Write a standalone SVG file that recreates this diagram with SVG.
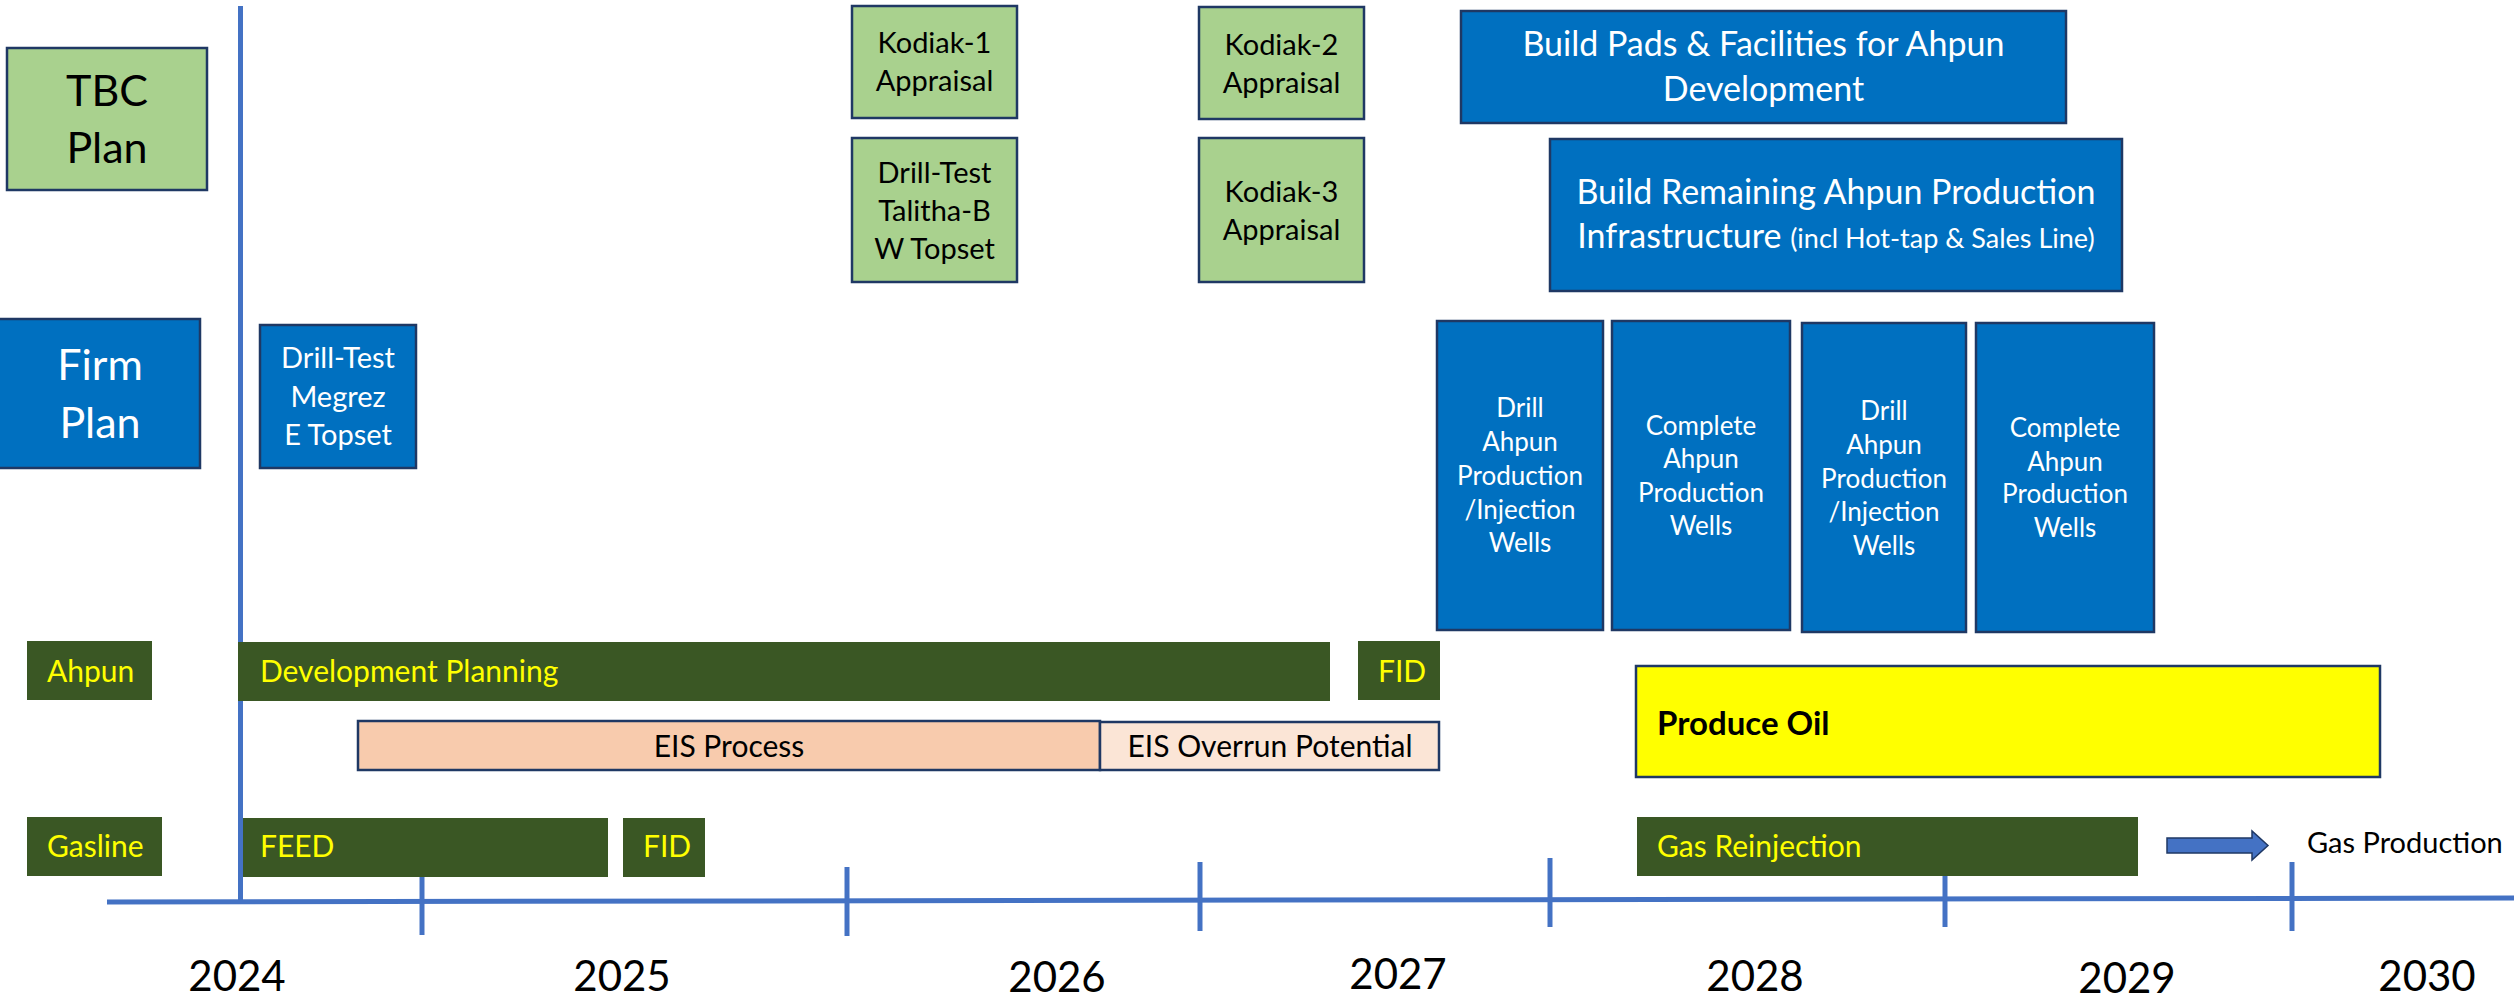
<svg xmlns="http://www.w3.org/2000/svg" width="2514" height="1000" viewBox="0 0 2514 1000">
  <style>
    text { font-family: Lato, "Liberation Sans", sans-serif; }
    .tbc { fill: #A9D18E; stroke: #1F3864; stroke-width: 2.5; }
    .firm { fill: #0070C0; stroke: #1F3864; stroke-width: 2.5; }
    .bar { fill: #3A5724; }
    .eis { fill: #F8CBAD; stroke: #1F3864; stroke-width: 2.5; }
    .eis-over { fill: #FBE5D6; stroke: #1F3864; stroke-width: 2.5; }
    .oil { fill: #FFFF00; stroke: #1F3864; stroke-width: 2.5; }
    .axis { stroke: #4472C4; stroke-width: 5; fill: none; }
    .dark { fill: #000000; }
    .white { fill: #FFFFFF; }
    .yellow { fill: #FFFF00; font-size: 30px; }
    .mid { text-anchor: middle; }
    .s29 { font-size: 29px; }
    .s26 { font-size: 26px; }
    .s34 { font-size: 34px; }
    .big { font-size: 43px; }
    .year { font-size: 42px; fill: #000000; text-anchor: middle; }
  </style>

  <!-- timeline: vertical start marker, horizontal axis and ticks -->
  <g id="timeline">
    <line class="axis" x1="240.5" y1="6" x2="240.5" y2="902"/>
    <line class="axis" x1="107" y1="902" x2="2514" y2="898"/>
    <line class="axis" x1="422" y1="875" x2="422" y2="935"/>
    <line class="axis" x1="847" y1="867" x2="847" y2="936"/>
    <line class="axis" x1="1200" y1="862" x2="1200" y2="931"/>
    <line class="axis" x1="1550" y1="858" x2="1550" y2="927"/>
    <line class="axis" x1="1945" y1="870" x2="1945" y2="927"/>
    <line class="axis" x1="2292" y1="862" x2="2292" y2="931"/>
    <text class="year" x="237" y="991">2024</text>
    <text class="year" x="622" y="991">2025</text>
    <text class="year" x="1057" y="992">2026</text>
    <text class="year" x="1398" y="989">2027</text>
    <text class="year" x="1755" y="991">2028</text>
    <text class="year" x="2127" y="993">2029</text>
    <text class="year" x="2427" y="991">2030</text>
  </g>

  <!-- legend boxes -->
  <g id="tbc-plan">
    <rect class="tbc" x="7" y="48" width="200" height="142"/>
    <text class="dark mid big" x="107" y="106">TBC</text>
    <text class="dark mid big" x="107" y="163">Plan</text>
  </g>
  <g id="firm-plan">
    <rect class="firm" x="-2" y="319" width="202" height="149"/>
    <text class="white mid big" x="100" y="380">Firm</text>
    <text class="white mid big" x="100" y="438">Plan</text>
  </g>

  <!-- wells and appraisals -->
  <g id="megrez">
    <rect class="firm" x="260" y="325" width="156" height="143"/>
    <text class="white mid s29" x="338" y="368">Drill-Test</text>
    <text class="white mid s29" x="338" y="407">Megrez</text>
    <text class="white mid s29" x="338" y="445">E Topset</text>
  </g>
  <g id="kodiak-1">
    <rect class="tbc" x="852" y="6" width="165" height="112"/>
    <text class="dark mid s29" x="934.5" y="53">Kodiak-1</text>
    <text class="dark mid s29" x="934.5" y="91">Appraisal</text>
  </g>
  <g id="talitha">
    <rect class="tbc" x="852" y="138" width="165" height="144"/>
    <text class="dark mid s29" x="934.5" y="183">Drill-Test</text>
    <text class="dark mid s29" x="934.5" y="221">Talitha-B</text>
    <text class="dark mid s29" x="934.5" y="259">W Topset</text>
  </g>
  <g id="kodiak-2">
    <rect class="tbc" x="1199" y="7" width="165" height="112"/>
    <text class="dark mid s29" x="1281.5" y="55">Kodiak-2</text>
    <text class="dark mid s29" x="1281.5" y="93">Appraisal</text>
  </g>
  <g id="kodiak-3">
    <rect class="tbc" x="1199" y="138" width="165" height="144"/>
    <text class="dark mid s29" x="1281.5" y="202">Kodiak-3</text>
    <text class="dark mid s29" x="1281.5" y="240">Appraisal</text>
  </g>

  <!-- facilities -->
  <g id="build-pads">
    <rect class="firm" x="1461" y="11" width="605" height="112"/>
    <text class="white mid s34" x="1763.5" y="56">Build Pads &amp; Facilities for Ahpun</text>
    <text class="white mid s34" x="1763.5" y="101">Development</text>
  </g>
  <g id="build-remaining">
    <rect class="firm" x="1550" y="139" width="572" height="152"/>
    <text class="white mid s34" x="1836" y="204">Build Remaining Ahpun Production</text>
    <text class="white mid s34" x="1836" y="248">Infrastructure <tspan style="font-size:27px">(incl Hot-tap &amp; Sales Line)</tspan></text>
  </g>

  <!-- drilling campaigns -->
  <g id="drill-1">
    <rect class="firm" x="1437" y="321" width="166" height="309"/>
    <text class="white mid s26" x="1520" y="417">Drill</text>
    <text class="white mid s26" x="1520" y="451">Ahpun</text>
    <text class="white mid s26" x="1520" y="485">Production</text>
    <text class="white mid s26" x="1520" y="519">/Injection</text>
    <text class="white mid s26" x="1520" y="552">Wells</text>
  </g>
  <g id="complete-1">
    <rect class="firm" x="1612" y="321" width="178" height="309"/>
    <text class="white mid s26" x="1701" y="435">Complete</text>
    <text class="white mid s26" x="1701" y="468">Ahpun</text>
    <text class="white mid s26" x="1701" y="502">Production</text>
    <text class="white mid s26" x="1701" y="535">Wells</text>
  </g>
  <g id="drill-2">
    <rect class="firm" x="1802" y="323" width="164" height="309"/>
    <text class="white mid s26" x="1884" y="420">Drill</text>
    <text class="white mid s26" x="1884" y="454">Ahpun</text>
    <text class="white mid s26" x="1884" y="488">Production</text>
    <text class="white mid s26" x="1884" y="521">/Injection</text>
    <text class="white mid s26" x="1884" y="555">Wells</text>
  </g>
  <g id="complete-2">
    <rect class="firm" x="1976" y="323" width="178" height="309"/>
    <text class="white mid s26" x="2065" y="437">Complete</text>
    <text class="white mid s26" x="2065" y="471">Ahpun</text>
    <text class="white mid s26" x="2065" y="503">Production</text>
    <text class="white mid s26" x="2065" y="537">Wells</text>
  </g>

  <!-- Ahpun row -->
  <g id="ahpun-label">
    <rect class="bar" x="27" y="641" width="125" height="59"/>
    <text class="yellow" x="47" y="682">Ahpun</text>
  </g>
  <g id="development-planning">
    <rect class="bar" x="238" y="642" width="1092" height="59"/>
    <text class="yellow" x="260" y="682">Development Planning</text>
  </g>
  <g id="ahpun-fid">
    <rect class="bar" x="1358" y="641" width="82" height="59"/>
    <text class="yellow" x="1378" y="682">FID</text>
  </g>
  <g id="eis-process">
    <rect class="eis" x="358" y="721" width="742" height="49"/>
    <text class="dark mid" style="font-size:30px" x="729" y="757">EIS Process</text>
  </g>
  <g id="eis-overrun">
    <rect class="eis-over" x="1100" y="722" width="339" height="48"/>
    <text class="dark mid" style="font-size:30px" x="1270" y="757">EIS Overrun Potential</text>
  </g>
  <g id="produce-oil">
    <rect class="oil" x="1636" y="666" width="744" height="111"/>
    <text class="dark" style="font-size:33px;font-weight:bold" x="1657" y="735">Produce Oil</text>
  </g>

  <!-- Gasline row -->
  <g id="gasline-label">
    <rect class="bar" x="27" y="817" width="135" height="59"/>
    <text class="yellow" x="47" y="857">Gasline</text>
  </g>
  <g id="feed">
    <rect class="bar" x="243" y="818" width="365" height="59"/>
    <text class="yellow" x="260" y="857">FEED</text>
  </g>
  <g id="gasline-fid">
    <rect class="bar" x="623" y="818" width="82" height="59"/>
    <text class="yellow" x="643" y="857">FID</text>
  </g>
  <g id="gas-reinjection">
    <rect class="bar" x="1637" y="817" width="501" height="59"/>
    <text class="yellow" x="1657" y="857">Gas Reinjection</text>
  </g>
  <g id="gas-production">
    <text class="dark" style="font-size:29px" x="2307" y="853">Gas Production</text>
  </g>

  <!-- connectors -->
  <g id="connectors">
    <path d="M2167,838 H2252 V831 L2268,845.5 L2252,860 V853 H2167 Z" fill="#4472C4" stroke="#1F3864" stroke-width="1.5"/>
  </g>
</svg>
